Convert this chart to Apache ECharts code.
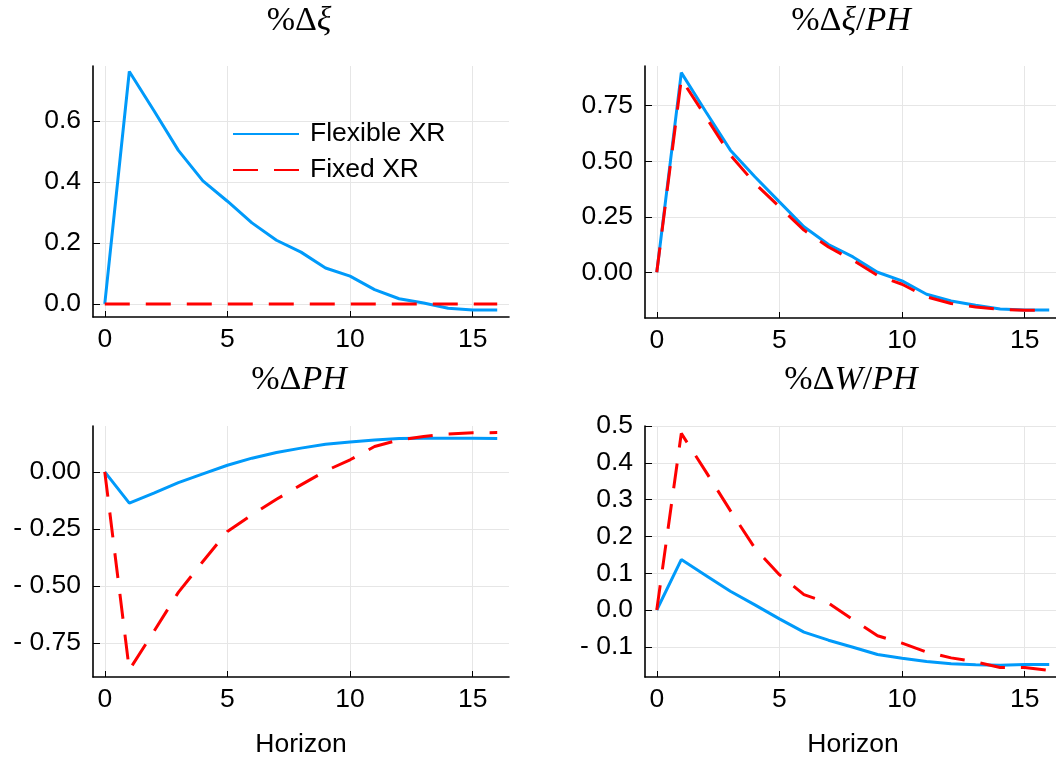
<!DOCTYPE html>
<html>
<head>
<meta charset="utf-8">
<script src="https://cdn.jsdelivr.net/npm/echarts@6/dist/echarts.min.js"></script>
<style>html,body{margin:0;padding:0;background:#fff;}#c{width:1056px;height:759px;}</style>
</head>
<body>
<div id="c"></div>
<script>
// ---- data ----
const horizon = [0,1,2,3,4,5,6,7,8,9,10,11,12,13,14,15,16];
const seriesNames = ['Flexible XR', 'Fixed XR'];
const panelTitles = [['%Δ','ξ'], ['%Δ','ξ','/','PH'], ['%Δ','PH'], ['%Δ','W','/','PH']];
const xTicks = [0, 5, 10, 15];

// Panel 1: %Δξ
const xiFlex  = [0, 0.763, 0.635, 0.504, 0.404, 0.337, 0.266, 0.209, 0.170, 0.118, 0.091, 0.047, 0.017, 0.003, -0.014, -0.020, -0.020];
const xiFixed = [0, 0, 0, 0, 0, 0, 0, 0, 0, 0, 0, 0, 0, 0, 0, 0, 0];
const yTicks1 = [0.0, 0.2, 0.4, 0.6];

// Panel 2: %Δξ/PH
const xiPHFlex  = [0, 0.899, 0.723, 0.550, 0.430, 0.317, 0.205, 0.125, 0.069, 0.000, -0.039, -0.099, -0.129, -0.149, -0.165, -0.170, -0.170];
const xiPHFixed = [0, 0.870, 0.700, 0.528, 0.400, 0.295, 0.190, 0.114, 0.054, -0.014, -0.054, -0.111, -0.141, -0.156, -0.167, -0.171, -0.171];
const yTicks2 = [0.00, 0.25, 0.50, 0.75];

// Panel 3: %ΔPH
const phFlex  = [0, -0.137, -0.093, -0.047, -0.009, 0.029, 0.060, 0.085, 0.104, 0.121, 0.131, 0.140, 0.146, 0.147, 0.147, 0.147, 0.146];
const phFixed = [0, -0.868, -0.700, -0.528, -0.393, -0.261, -0.188, -0.120, -0.057, 0.004, 0.053, 0.111, 0.140, 0.155, 0.166, 0.171, 0.172];
const yTicks3 = [-0.75, -0.50, -0.25, 0.00];

// Panel 4: %ΔW/PH
const wphFlex  = [0, 0.137, 0.094, 0.051, 0.014, -0.024, -0.060, -0.082, -0.101, -0.121, -0.131, -0.140, -0.146, -0.149, -0.150, -0.148, -0.148];
const wphFixed = [0, 0.480, 0.376, 0.270, 0.168, 0.096, 0.042, 0.019, -0.026, -0.070, -0.090, -0.114, -0.130, -0.141, -0.156, -0.156, -0.164];
const yTicks4 = [-0.1, 0.0, 0.1, 0.2, 0.3, 0.4, 0.5];

// ---- build ----
const BLUE = '#009AFA', RED = '#FF0000';
const SANS = 'Liberation Sans, Arial, Helvetica, sans-serif';
const SERIF = 'Liberation Serif, Times New Roman, serif';
const FS = 26.5;

const grids = [
  {left: 93, top: 66, width: 416, height: 251},
  {left: 645, top: 66, width: 416, height: 252},
  {left: 93, top: 426, width: 416, height: 251},
  {left: 645, top: 426, width: 416, height: 251}
];
const yRanges = [[-0.043, 0.781], [-0.206, 0.929], [-0.899, 0.201], [-0.182, 0.5]];
const yTickSets = [yTicks1, yTicks2, yTicks3, yTicks4];
const yDecimals = [1, 2, 2, 1];
const flexSets = [xiFlex, xiPHFlex, phFlex, wphFlex];
const fixedSets = [xiFixed, xiPHFixed, phFixed, wphFixed];

function fmt(dec) {
  return function (v) {
    if (Math.abs(v) < 1e-9) return (0).toFixed(dec);
    return v < 0 ? '- ' + Math.abs(v).toFixed(dec) : v.toFixed(dec);
  };
}

const gridLine = {show: true, lineStyle: {color: '#e6e6e6', width: 1}};
const axisLine = {show: true, onZero: false, lineStyle: {color: '#000', width: 1.6}};

const xAxes = [], yAxes = [], series = [], graphics = [];
grids.forEach(function (g, i) {
  g.outerBoundsMode = 'none';
  g.containLabel = false;
  xAxes.push({
    type: 'value', gridIndex: i, min: -0.48, max: 16.48,
    axisLine: axisLine,
    axisTick: {show: true, inside: true, length: 6, customValues: xTicks, lineStyle: {color: '#000', width: 1}},
    axisLabel: {show: true, customValues: xTicks, color: '#000', fontFamily: SANS, fontSize: FS, margin: 9},
    splitLine: gridLine,
    name: i >= 2 ? 'Horizon' : '',
    nameLocation: 'middle', nameGap: 54,
    nameTextStyle: {color: '#000', fontFamily: SANS, fontSize: FS}
  });
  yAxes.push({
    type: 'value', gridIndex: i, min: yRanges[i][0], max: yRanges[i][1],
    axisLine: axisLine,
    axisTick: {show: true, inside: true, length: 7, customValues: yTickSets[i], lineStyle: {color: '#000', width: 1}},
    axisLabel: {show: true, customValues: yTickSets[i], color: '#000', fontFamily: SANS, fontSize: FS, margin: 12, formatter: fmt(yDecimals[i])},
    splitLine: gridLine
  });
  series.push({
    name: seriesNames[0], type: 'line', xAxisIndex: i, yAxisIndex: i,
    data: horizon.map(function (h, k) { return [h, flexSets[i][k]]; }),
    symbol: 'none', showSymbol: false, smooth: false,
    lineStyle: {color: BLUE, width: 3}, itemStyle: {color: BLUE}, z: 3
  });
  series.push({
    name: seriesNames[1], type: 'line', xAxisIndex: i, yAxisIndex: i,
    data: horizon.map(function (h, k) { return [h, fixedSets[i][k]]; }),
    symbol: 'none', showSymbol: false, smooth: false,
    lineStyle: {color: RED, width: 3, type: [25, 16]}, itemStyle: {color: RED}, z: 4
  });
  // title
  const parts = panelTitles[i];
  let txt = '';
  parts.forEach(function (p) {
    const italic = (p === 'ξ' || p === 'PH' || p === 'W');
    txt += '{' + (italic ? 'i' : 'n') + '|' + p + '}';
  });
  graphics.push({
    type: 'text',
    x: g.left + g.width / 2 - 2,
    y: i < 2 ? 21 : 380,
    style: {
      text: txt,
      align: 'center', verticalAlign: 'middle',
      fill: '#000',
      rich: {
        n: {fontFamily: SERIF, fontSize: 34, fill: '#000'},
        i: {fontFamily: SERIF, fontStyle: 'italic', fontSize: 34, fill: '#000'}
      }
    }
  });
});

const chart = echarts.init(document.getElementById('c'), null, {renderer: 'canvas'});
chart.setOption({
  animation: false,
  backgroundColor: '#fff',
  grid: grids,
  xAxis: xAxes,
  yAxis: yAxes,
  legend: {
    show: true, orient: 'vertical', left: 227, top: 114,
    data: seriesNames,
    itemWidth: 66, itemHeight: 14, itemGap: 6,
    itemStyle: {opacity: 0, borderWidth: 0},
    textStyle: {color: '#000', fontFamily: SANS, fontSize: FS, lineHeight: 30, padding: [0, 0, 0, 6]},
    selectedMode: false
  },
  series: series,
  graphic: graphics
});
</script>
</body>
</html>
